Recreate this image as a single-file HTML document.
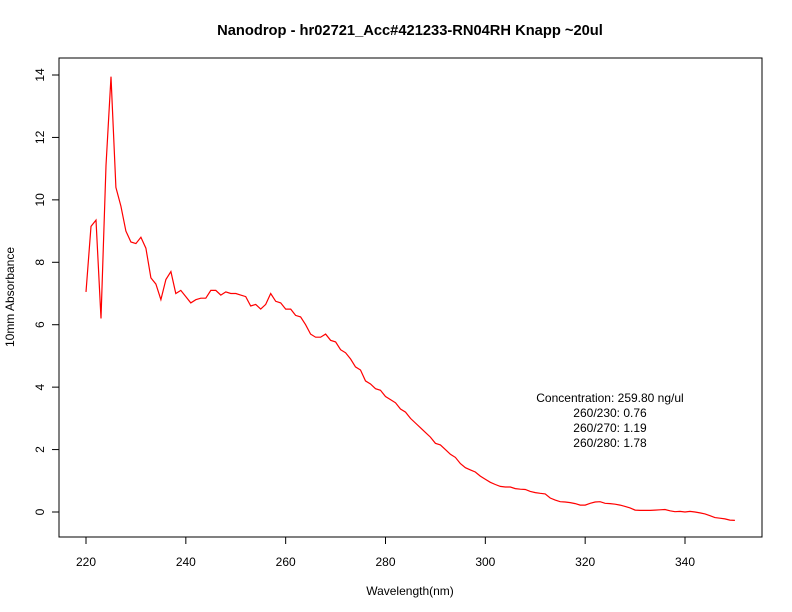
<!DOCTYPE html>
<html><head><meta charset="utf-8"><style>
body{margin:0;background:#fff}
svg{display:block;font-family:"Liberation Sans",sans-serif}
</style></head><body>
<svg id="chart" width="792" height="612">
<rect width="792" height="612" fill="#fff"/>
<text x="410" y="35" text-anchor="middle" font-weight="bold" font-size="14.7">Nanodrop - hr02721_Acc#421233-RN04RH Knapp ~20ul</text>
<rect x="59" y="58" width="703" height="479" fill="none" stroke="#000"/>
<g id="xaxis"></g>
<g id="yaxis"></g>
<text x="410" y="595" text-anchor="middle" font-size="12">Wavelength(nm)</text>
<text transform="translate(14,297) rotate(-90)" text-anchor="middle" font-size="12">10mm Absorbance</text>
<g font-size="12" text-anchor="middle">
<text x="610" y="402">Concentration: 259.80 ng/ul</text>
<text x="610" y="417">260/230: 0.76</text>
<text x="610" y="432">260/270: 1.19</text>
<text x="610" y="447">260/280: 1.78</text>
</g>
<g id="series"></g>
</svg>
<script>
const wavelengths=[];for(let w=220;w<=350;w++)wavelengths.push(w);
const absorbance=[7.05,9.15,9.35,6.2,11.1,13.95,10.4,9.8,9.0,8.65,8.6,8.8,8.45,7.5,7.3,6.8,7.45,7.7,7.0,7.1,
6.9,6.7,6.8,6.85,6.85,7.1,7.1,6.95,7.05,7.0,7.0,6.95,6.9,6.6,6.65,6.5,6.65,7.0,6.75,6.7,
6.5,6.5,6.3,6.25,6.0,5.7,5.6,5.6,5.7,5.5,5.45,5.2,5.1,4.9,4.65,4.55,4.2,4.1,3.95,3.9,
3.7,3.6,3.5,3.3,3.2,3.0,2.85,2.7,2.55,2.4,2.2,2.15,2.0,1.85,1.75,1.55,1.42,1.35,1.28,1.15,
1.05,0.95,0.88,0.82,0.8,0.8,0.75,0.73,0.72,0.66,0.62,0.6,0.58,0.45,0.38,0.33,0.32,0.3,0.27,0.22,
0.22,0.28,0.32,0.33,0.28,0.27,0.25,0.22,0.18,0.13,0.06,0.05,0.05,0.05,0.06,0.07,0.08,0.04,0.01,0.02,
0.0,0.02,0.0,-0.03,-0.06,-0.12,-0.18,-0.2,-0.22,-0.26,-0.27];
const xTicks=[220,240,260,280,300,320,340];
const yTicks=[0,2,4,6,8,10,12,14];
const NS="http://www.w3.org/2000/svg";
const xs=v=>86+(v-220)*(599/120);
const ys=v=>512-v*(437/14);
const xa=document.getElementById('xaxis'),ya=document.getElementById('yaxis');
function mk(t,a,p){const e=document.createElementNS(NS,t);for(const k in a)e.setAttribute(k,a[k]);p.appendChild(e);return e;}
mk('line',{x1:xs(220),x2:xs(340),y1:537,y2:537,stroke:'#000'},xa);
xTicks.forEach(v=>{
 const l=mk('line',{x1:xs(v),x2:xs(v),y1:537,y2:544,stroke:'#000'},xa);
 
 
 const t=mk('text',{x:xs(v),y:566,'text-anchor':'middle','font-size':12},xa);t.textContent=v;
 
 
});
mk('line',{x1:59,x2:59,y1:ys(0),y2:ys(14),stroke:'#000'},ya);
yTicks.forEach(v=>{
 const l=mk('line',{x1:52,x2:59,y1:ys(v),y2:ys(v),stroke:'#000'},ya);
 
 
 const t=mk('text',{transform:`translate(44,${ys(v)}) rotate(-90)`,'text-anchor':'middle','font-size':12},ya);t.textContent=v;
 
 
});
const pts=wavelengths.map((w,i)=>xs(w).toFixed(1)+','+ys(absorbance[i]).toFixed(1)).join(' ');
const line=mk('polyline',{points:pts,fill:'none',stroke:'#ff0000','stroke-width':1.2},document.getElementById('series'));


</script>
</body></html>
